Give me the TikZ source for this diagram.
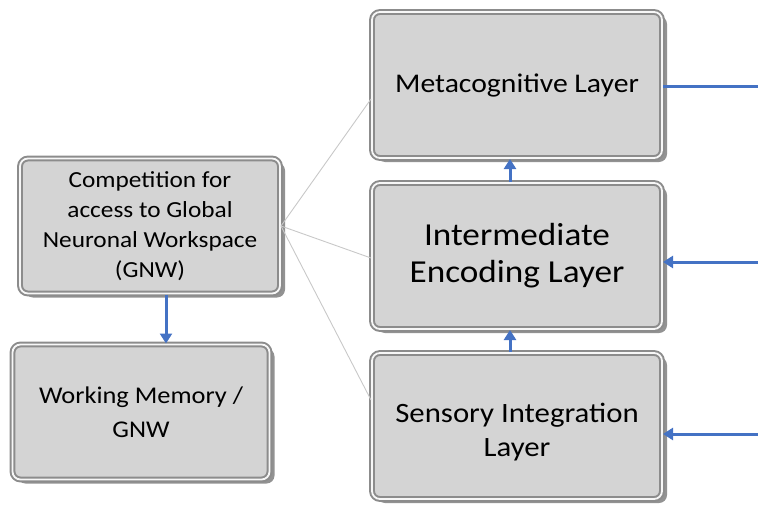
\documentclass[tikz,border=0pt]{standalone}
\usepackage{fontspec}
\setmainfont{Carlito}[FakeStretch=1.1]
\usetikzlibrary{arrows.meta,shadows}

\definecolor{boxgray}{HTML}{D4D4D4}
\definecolor{rimgray}{HTML}{8C8C8C}
\definecolor{linkblue}{HTML}{4472C4}
\definecolor{thingray}{HTML}{C8C8C8}

\tikzset{
  layerbox/.style={rectangle, rounded corners=8pt, fill=boxgray, draw=rimgray,
    line width=2pt, double=gray!6, double distance=1.8pt, align=center,
    text=black, inner sep=0pt,
    drop shadow={shadow xshift=5pt, shadow yshift=-4pt, fill=gray!95, opacity=0.9}},
  feed/.style={draw=linkblue, line width=3pt, -{Triangle[width=12pt,length=10pt]}},
  fanout/.style={draw=thingray, line width=0.9pt},
}

\begin{document}
\begin{tikzpicture}[x=1pt, y=-1pt]
        \useasboundingbox (0,0) rectangle (758,506);
        % left column
        \node [layerbox, minimum width=260pt, minimum height=135pt, font=\fontsize{23}{30}\selectfont] (comp) at (150,226) {Competition for\\access to Global\\Neuronal Workspace\\(GNW)};
        \node [layerbox, minimum width=257pt, minimum height=135pt, font=\fontsize{24}{34}\selectfont] (wm) at (141,412) {Working Memory /\\GNW};
        % layer stack
        \node [layerbox, minimum width=290pt, minimum height=146pt, font=\fontsize{27}{33}\selectfont] (meta) at (517,85) {Metacognitive Layer};
        \node [layerbox, minimum width=290pt, minimum height=146pt, font=\fontsize{32}{37}\selectfont] (inter) at (517,256) {Intermediate\\Encoding Layer};
        \node [layerbox, minimum width=290pt, minimum height=146pt, font=\fontsize{28}{34}\selectfont] (sens) at (517,426) {\raisebox{-6pt}[\height][\depth]{\parbox{280pt}{\centering Sensory Integration\\Layer}}};
        % free ends on the right
        \coordinate (metaout) at (758,86);
        \coordinate (interin) at (758,262);
        \coordinate (sensin) at (758,434);
        % gray fan from the competition box
        \draw [fanout] (comp.east) -- ([yshift=-14pt]meta.west);
        \draw [fanout] (comp.east) -- ([yshift=-2pt]inter.west);
        \draw [fanout] (comp.east) -- ([yshift=26pt]sens.west);
        % blue links
        \draw [feed] ([xshift=16pt]comp.south) -- ([xshift=16pt]comp.south |- wm.north);
        \draw [feed] ([xshift=-7pt]sens.north) -- ([xshift=-7pt]inter.south);
        \draw [feed] ([xshift=-7pt]inter.north) -- ([xshift=-7pt]meta.south);
        \draw [draw=linkblue, line width=3pt] (meta.east |- metaout) -- (metaout);
        \draw [feed] (interin) -- (inter.east |- interin);
        \draw [feed] (sensin) -- (sens.east |- sensin);
\end{tikzpicture}
\end{document}
